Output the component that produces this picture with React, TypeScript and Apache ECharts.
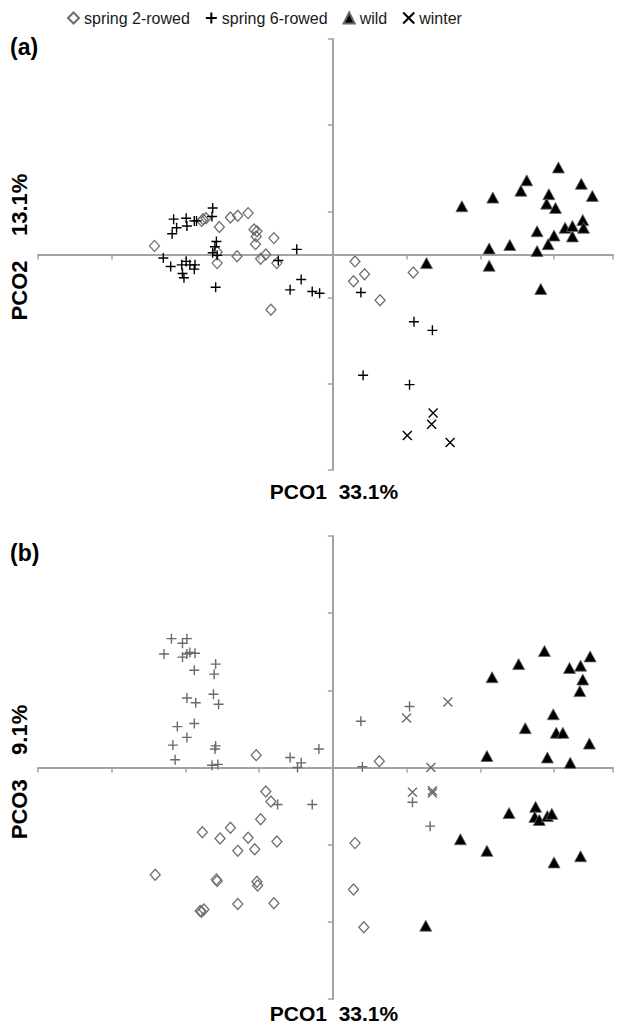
import React, { useEffect, useRef } from "react";
import * as echarts from "echarts";

// ---------- data ----------
const seriesNames = ["spring 2-rowed", "spring 6-rowed", "wild", "winter"];
const panelLabels = ["(a)", "(b)"];
const xTitle = "PCO1  33.1%";
const yTitles = ["PCO2    13.1%", "PCO3    9.1%"];

// Panel (a): PCO1 (x) vs PCO2 (y)
const aSpring2: number[][] = [
  [-0.242, 0.010], [-0.178, 0.039], [-0.176, 0.041], [-0.172, 0.042], [-0.154, 0.032],
  [-0.139, 0.043], [-0.129, 0.045], [-0.115, 0.048], [-0.107, 0.029], [-0.103, 0.027],
  [-0.104, 0.021], [-0.105, 0.012], [-0.080, 0.019], [-0.157, 0.003], [-0.157, -0.010],
  [-0.130, -0.002], [-0.098, -0.005], [-0.091, 0.000], [-0.076, -0.010], [-0.084, -0.064],
  [0.030, -0.008], [0.043, -0.023], [0.028, -0.031], [0.064, -0.053], [0.109, -0.021],
];
const aSpring6: number[][] = [
  [-0.163, 0.054], [-0.164, 0.044], [-0.216, 0.041], [-0.199, 0.042], [-0.212, 0.031],
  [-0.198, 0.033], [-0.218, 0.024], [-0.188, 0.039], [-0.185, 0.039], [-0.158, 0.015],
  [-0.160, 0.009], [-0.163, 0.002], [-0.157, -0.001], [-0.230, -0.004], [-0.220, -0.014],
  [-0.205, -0.012], [-0.199, -0.008], [-0.194, -0.012], [-0.187, -0.012], [-0.188, -0.017],
  [-0.204, -0.022], [-0.202, -0.027], [-0.159, -0.038], [-0.049, 0.006], [-0.074, -0.007],
  [-0.043, -0.029], [-0.058, -0.041], [-0.028, -0.043], [-0.018, -0.045], [0.038, -0.044],
  [0.110, -0.078], [0.135, -0.088], [0.041, -0.140], [0.104, -0.151],
];
const aWild: number[][] = [
  [0.306, 0.101], [0.263, 0.086], [0.337, 0.082], [0.255, 0.074], [0.293, 0.070],
  [0.352, 0.068], [0.217, 0.066], [0.175, 0.056], [0.290, 0.059], [0.302, 0.054],
  [0.339, 0.040], [0.315, 0.031], [0.325, 0.033], [0.340, 0.031], [0.277, 0.027],
  [0.300, 0.022], [0.325, 0.021], [0.292, 0.012], [0.240, 0.011], [0.212, 0.007],
  [0.277, 0.004], [0.127, -0.010], [0.212, -0.013], [0.282, -0.040],
];
const aWinter: number[][] = [
  [0.136, -0.184], [0.134, -0.197], [0.101, -0.210], [0.159, -0.218],
];

// Panel (b): PCO1 (x) vs PCO3 (y)
const bSpring2: number[][] = [
  [-0.104, 0.016], [-0.091, -0.031], [-0.084, -0.044], [-0.098, -0.067], [-0.139, -0.078],
  [-0.177, -0.084], [-0.153, -0.092], [-0.115, -0.091], [-0.076, -0.096], [-0.129, -0.108],
  [-0.106, -0.106], [-0.241, -0.139], [-0.158, -0.145], [-0.157, -0.147], [-0.103, -0.148],
  [-0.102, -0.153], [-0.129, -0.177], [-0.080, -0.176], [-0.180, -0.186], [-0.175, -0.184],
  [-0.178, -0.187], [0.030, -0.098], [0.028, -0.158], [0.042, -0.207], [0.063, 0.008],
];
const bSpring6: number[][] = [
  [-0.219, 0.167], [-0.198, 0.167], [-0.204, 0.161], [-0.229, 0.147], [-0.204, 0.143],
  [-0.198, 0.147], [-0.194, 0.149], [-0.187, 0.148], [-0.159, 0.134], [-0.188, 0.126],
  [-0.161, 0.121], [-0.198, 0.090], [-0.186, 0.084], [-0.162, 0.095], [-0.155, 0.082],
  [-0.211, 0.053], [-0.188, 0.057], [-0.198, 0.039], [-0.217, 0.029], [-0.159, 0.028],
  [-0.160, 0.024], [-0.214, 0.010], [-0.164, 0.003], [-0.156, 0.004], [-0.058, 0.013],
  [-0.043, 0.006], [-0.048, 0.000], [-0.019, 0.024], [-0.075, -0.048], [-0.028, -0.048],
  [0.038, 0.060], [0.104, 0.079], [0.040, 0.001], [0.108, -0.045], [0.132, -0.076],
];
const bWild: number[][] = [
  [0.287, 0.151], [0.252, 0.134], [0.349, 0.144], [0.321, 0.129], [0.336, 0.132],
  [0.216, 0.117], [0.339, 0.114], [0.335, 0.099], [0.299, 0.069], [0.261, 0.051],
  [0.303, 0.045], [0.312, 0.045], [0.348, 0.031], [0.209, 0.015], [0.291, 0.013],
  [0.322, 0.006], [0.275, -0.051], [0.239, -0.059], [0.274, -0.064], [0.280, -0.068],
  [0.291, -0.063], [0.297, -0.060], [0.173, -0.093], [0.209, -0.108], [0.300, -0.123],
  [0.336, -0.115], [0.126, -0.205],
];
const bWinter: number[][] = [
  [0.156, 0.085], [0.100, 0.064], [0.133, 0.000], [0.108, -0.032], [0.135, -0.030],
  [0.135, -0.033],
];

// axis ranges
const xRange = [-0.4, 0.38];
const yRanges = [[-0.25, 0.25], [-0.3, 0.3]];
const axisInterval = 0.1;

// ---------- styling ----------
const FONT = "'Liberation Sans', Arial, Helvetica, sans-serif";
const AXIS_GRAY = "#a3a3a3";
const PLUS_PATH = "path://M0,5L10,5M5,0L5,10";
const CROSS_PATH = "path://M0,0L10,10M0,10L10,0";

function makeSeries(
  idx: number,
  spring2: number[][],
  spring6: number[][],
  wild: number[][],
  winter: number[][],
  lineColor: string
) {
  const common = {
    type: "scatter" as const,
    xAxisIndex: idx,
    yAxisIndex: idx,
    emphasis: { disabled: true },
  };
  return [
    {
      ...common,
      name: seriesNames[0],
      data: spring2,
      symbol: "diamond",
      symbolSize: [10, 11],
      itemStyle: { color: "rgba(255,255,255,0)", borderColor: "#6e6e6e", borderWidth: 1.3, opacity: 1 },
    },
    {
      ...common,
      name: seriesNames[1],
      data: spring6,
      symbol: PLUS_PATH,
      symbolSize: 10,
      itemStyle: { color: "rgba(0,0,0,0)", borderColor: lineColor, borderWidth: 1.4, opacity: 1 },
    },
    {
      ...common,
      name: seriesNames[2],
      data: wild,
      symbol: "triangle",
      symbolSize: [12, 11],
      itemStyle: { color: "#000000", borderColor: "#666666", borderWidth: 0.8, opacity: 1 },
    },
    {
      ...common,
      name: seriesNames[3],
      data: winter,
      symbol: CROSS_PATH,
      symbolSize: 9,
      itemStyle: { color: "rgba(0,0,0,0)", borderColor: lineColor, borderWidth: 1.4, opacity: 1 },
    },
  ];
}

function axisCommon(gridIndex: number) {
  return {
    type: "value" as const,
    gridIndex,
    interval: axisInterval,
    axisLine: { show: true, onZero: true, lineStyle: { color: AXIS_GRAY, width: 2 } },
    axisTick: { show: true, inside: false, length: 5, lineStyle: { color: AXIS_GRAY, width: 1.5 } },
    axisLabel: { show: false },
    splitLine: { show: false },
  };
}

export default function App() {
  const ref = useRef<HTMLDivElement>(null);

  useEffect(() => {
    document.body.style.margin = "0";
    if (!ref.current) return;
    const chart = echarts.init(ref.current, undefined, { renderer: "svg" });

    const grids = [
      { left: 38, top: 39, width: 575, height: 431 },
      { left: 38, top: 536, width: 575, height: 463 },
    ];

    const xTitleFont = `bold 21px ${FONT}`;
    const yTitleFont = `bold 22px ${FONT}`;

    const option = {
      animation: false,
      backgroundColor: "#ffffff",
      textStyle: { fontFamily: FONT },
      legend: {
        top: 5,
        left: 62,
        itemWidth: 11,
        itemHeight: 11,
        itemGap: 15,
        data: seriesNames,
        textStyle: { fontFamily: FONT, fontSize: 16, color: "#1a1a1a" },
      },
      grid: grids,
      xAxis: [0, 1].map((i) => ({ ...axisCommon(i), min: xRange[0], max: xRange[1] })),
      yAxis: [0, 1].map((i) => ({ ...axisCommon(i), min: yRanges[i][0], max: yRanges[i][1] })),
      series: [
        ...makeSeries(0, aSpring2, aSpring6, aWild, aWinter, "#000000"),
        ...makeSeries(1, bSpring2, bSpring6, bWild, bWinter, "#6a6a6a"),
      ],
      graphic: [
        {
          type: "text", left: 10, top: 35,
          style: { text: panelLabels[0], font: `bold 23px ${FONT}`, fill: "#000" },
        },
        {
          type: "text", left: 10, top: 541,
          style: { text: panelLabels[1], font: `bold 23px ${FONT}`, fill: "#000" },
        },
        {
          type: "text", x: 334, y: 491,
          style: { text: xTitle, font: xTitleFont, fill: "#000", align: "center", verticalAlign: "middle" },
        },
        {
          type: "text", x: 334, y: 1013,
          style: { text: xTitle, font: xTitleFont, fill: "#000", align: "center", verticalAlign: "middle" },
        },
        {
          type: "text", x: 19, y: 247, rotation: Math.PI / 2,
          style: { text: yTitles[0], font: yTitleFont, fill: "#000", align: "center", verticalAlign: "middle" },
        },
        {
          type: "text", x: 19, y: 772, rotation: Math.PI / 2,
          style: { text: yTitles[1], font: yTitleFont, fill: "#000", align: "center", verticalAlign: "middle" },
        },
      ],
    };

    chart.setOption(option as any);
    return () => chart.dispose();
  }, []);

  return <div ref={ref} style={{ width: 625, height: 1028 }} />;
}
